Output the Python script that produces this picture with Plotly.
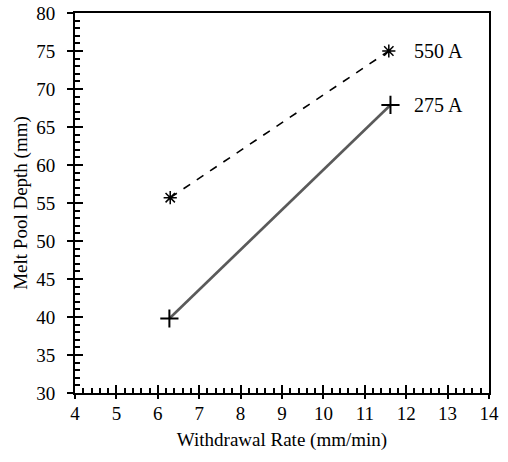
import plotly.graph_objects as go

# Data
rate_550 = [6.3, 11.58]
depth_550 = [55.7, 75.0]
rate_275 = [6.28, 11.62]
depth_275 = [39.8, 67.9]
series_labels = ["550 A", "275 A"]

FONT = "Liberation Serif, Times New Roman, serif"

fig = go.Figure()

fig.add_trace(go.Scatter(
    x=rate_550, y=depth_550, mode="lines+markers", name=series_labels[0],
    line=dict(color="black", width=1.6, dash="8px,8px"),
    marker=dict(symbol="asterisk-open", size=11, color="black", line=dict(color="black", width=1.5)),
))
fig.add_trace(go.Scatter(
    x=rate_275, y=depth_275, mode="lines", name=series_labels[1],
    line=dict(color="#5a5a5a", width=2.6),
))
fig.add_trace(go.Scatter(
    x=rate_275, y=depth_275, mode="markers", showlegend=False, hoverinfo="skip",
    marker=dict(symbol="cross-thin-open", size=13, color="black", line=dict(color="black", width=2)),
))
# invisible trace to anchor overlay axes (for outside tick stubs)
fig.add_trace(go.Scatter(
    x=rate_275, y=depth_275, mode="lines", xaxis="x2", yaxis="y2",
    opacity=0, hoverinfo="skip", showlegend=False,
))

# labels at line ends
fig.add_annotation(x=12.15, y=depth_550[-1], text=series_labels[0], showarrow=False,
                   xanchor="left", yanchor="middle", font=dict(family=FONT, size=20, color="black"))
fig.add_annotation(x=12.15, y=depth_275[-1], text=series_labels[1], showarrow=False,
                   xanchor="left", yanchor="middle", font=dict(family=FONT, size=20, color="black"))

axis_common = dict(
    showgrid=False, zeroline=False, showline=True, linecolor="black", linewidth=2,
    mirror=True, ticks="inside", tickcolor="black", tickwidth=2,
    tickfont=dict(family=FONT, size=19, color="black"), automargin=False,
    ticklabeloverflow="allow",
)

fig.update_layout(
    width=508, height=462,
    margin=dict(l=75, r=19, t=13, b=69),
    paper_bgcolor="white", plot_bgcolor="white",
    showlegend=False,
    xaxis=dict(
        range=[4, 14], tick0=4, dtick=1, ticklen=8,
        minor=dict(dtick=0.2, ticks="inside", ticklen=5, tickcolor="black", tickwidth=1.5),
        title=dict(text="Withdrawal Rate (mm/min)", font=dict(family=FONT, size=19, color="black"), standoff=10),
        ticklabelstandoff=2,
        **axis_common,
    ),
    yaxis=dict(
        range=[30, 80], tick0=30, dtick=5, ticklen=8,
        minor=dict(dtick=1, ticks="inside", ticklen=5, tickcolor="black", tickwidth=1.5),
        title=dict(text="Melt Pool Depth (mm)", font=dict(family=FONT, size=19, color="black"), standoff=4),
        ticklabelstandoff=14,
        **axis_common,
    ),
    xaxis2=dict(range=[4, 14], overlaying="x", anchor="y2", dtick=1, tick0=4,
                ticks="outside", ticklen=5, tickwidth=2, tickcolor="black", automargin=False,
                showticklabels=False, showline=False, showgrid=False, zeroline=False),
    yaxis2=dict(range=[30, 80], overlaying="y", anchor="x2", dtick=5, tick0=30,
                ticks="outside", ticklen=7, tickwidth=2, tickcolor="black", automargin=False,
                showticklabels=False, showline=False, showgrid=False, zeroline=False),
)

fig.write_html("out.html", config={"displayModeBar": False},
               post_script="document.body.style.margin='0';")
